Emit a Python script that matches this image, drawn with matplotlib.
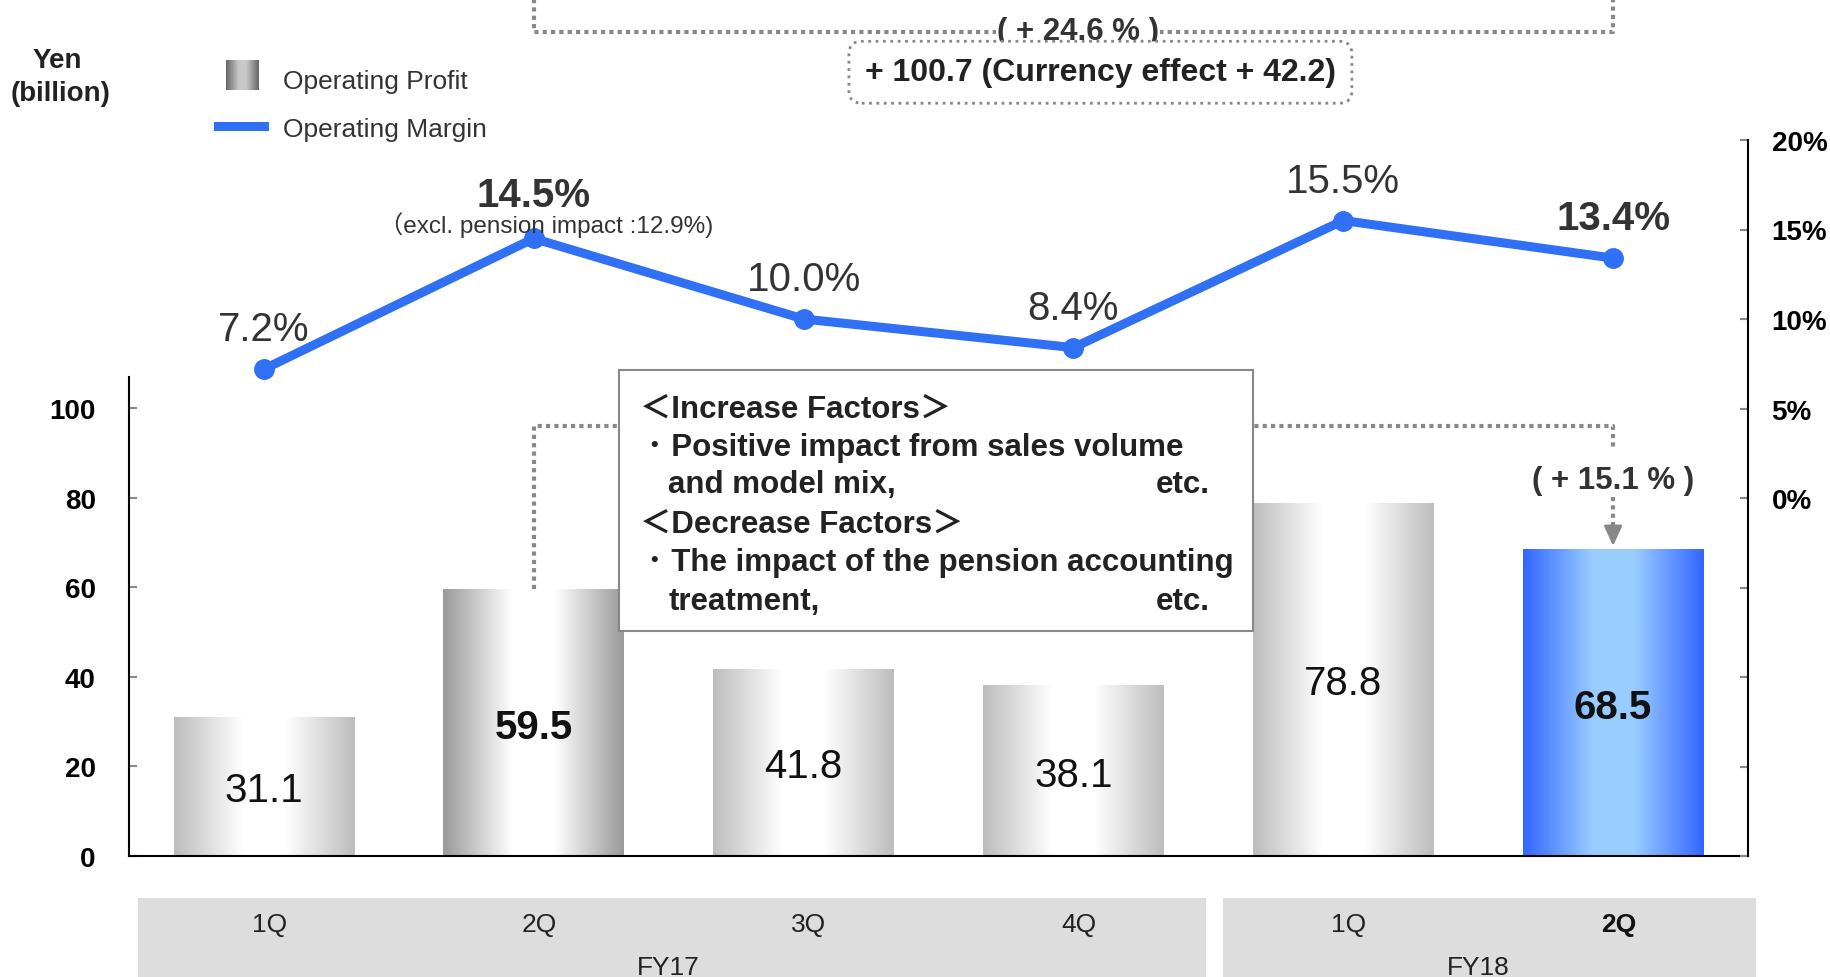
import matplotlib
matplotlib.use('Agg')
import matplotlib.pyplot as plt
import matplotlib.transforms as mtransforms
import numpy as np
from matplotlib.colors import LinearSegmentedColormap
from matplotlib.patches import Rectangle
from matplotlib.lines import Line2D

plt.rcParams['font.family'] = ['Liberation Sans', 'Noto Sans CJK JP', 'DejaVu Sans']

# data
quarters = ['1Q', '2Q', '3Q', '4Q', '1Q', '2Q']
years = ['FY17', 'FY18']
profit = [31.1, 59.5, 41.8, 38.1, 78.8, 68.5]
margin = [7.2, 14.5, 10.0, 8.4, 15.5, 13.4]
profit_labels = ['31.1', '59.5', '41.8', '38.1', '78.8', '68.5']
margin_labels = ['7.2%', '14.5%', '10.0%', '8.4%', '15.5%', '13.4%']
highlight = [1, 5]          # bold labels
left_ticks = [0, 20, 40, 60, 80, 100]
right_ticks = [-20, -15, -10, -5, 0, 5, 10, 15, 20]

blue = '#3070F5'
VA = 'center_baseline'
W, H = 1831, 978
fig = plt.figure(figsize=(W / 100, H / 100), dpi=100)


def fx(px):
    return px / W


def fy(py):
    return 1 - py / H


ax = fig.add_axes([fx(129), fy(857), (1748 - 129) / W, (857 - 141) / H])
x = np.arange(len(profit))
bars = ax.bar(x, profit, width=0.67, color='none', edgecolor='none', zorder=2)

# horizontal gradient for each bar
t = np.linspace(0, 1, 256)
prof = np.clip(1.3 * (1 - np.abs(2 * t - 1)), 0, 1)[None, :]
bar_cols = [('#bdbdbd', '#ffffff'), ('#9a9a9a', '#ffffff'), ('#bdbdbd', '#ffffff'),
            ('#bdbdbd', '#ffffff'), ('#bdbdbd', '#ffffff'), ('#3366ff', '#99ccff')]
for rect, (edge, cen) in zip(bars, bar_cols):
    cm = LinearSegmentedColormap.from_list('g', [edge, cen])
    x0, w, h = rect.get_x(), rect.get_width(), rect.get_height()
    im = ax.imshow(prof, cmap=cm, extent=(x0, x0 + w, 0, h), aspect='auto',
                   interpolation='bilinear', zorder=2)
    im.set_clip_path(rect)

for i, (v, lbl) in enumerate(zip(profit, profit_labels)):
    ax.text(i, v / 2, lbl, ha='center', va=VA, fontsize=29, color='#111',
            fontweight='bold' if i in highlight else 'normal', zorder=5)

ax.set_xlim(-0.5, 5.5)
ax.set_ylim(0, 159.8)
ax.set_xticks([])
ax.set_yticks(left_ticks)
ax.set_yticklabels([str(v) for v in left_ticks], fontweight='bold')
ax.tick_params(axis='y', direction='in', length=6, width=1.5, color='#888888',
               labelsize=20, pad=24)
for s in ['top', 'right']:
    ax.spines[s].set_visible(False)
ax.spines['left'].set_bounds(0, 107)
ax.spines['left'].set_linewidth(1.5)
ax.spines['bottom'].set_linewidth(1.5)

# dotted comparison brackets
dot = dict(color='#888888', lw=3, ls=(0, (1, 1)), clip_on=False, zorder=1.5)
ax.plot([1, 1, 5, 5], [profit[1], 96, 96, 90.6], **dot)
ax.plot([5, 5], [80.1, 72.5], **dot)
ax.annotate('', xy=(5, 69.2), xytext=(5, 73.5), annotation_clip=False,
            arrowprops=dict(arrowstyle='-|>,head_length=1.2,head_width=0.55',
                            color='#888888', lw=2, shrinkA=0, shrinkB=0))
ax.text(5, 84.8, '( + 15.1 % )', ha='center', va=VA, fontsize=22.5,
        fontweight='bold', color='#333333')

ax.plot([1, 1, 5, 5], [195, 184, 184, 195], **dot)
ax.text(3.017, 185, '( + 24.6 % )', ha='center', va=VA, fontsize=22.5,
        fontweight='bold', color='#333333',
        bbox=dict(fc='white', ec='none', pad=1))
ax.text(3.10, 175.7, '+ 100.7 (Currency effect + 42.2)', ha='center', va=VA,
        fontsize=23, fontweight='bold', color='#222222',
        bbox=dict(boxstyle='round,pad=0.5,rounding_size=0.4', fc='white',
                  ec='#888888', ls=':', lw=2))

# factors box
ax.add_patch(Rectangle((1.317, 50.2), 3.666 - 1.317, 108.5 - 50.2, fc='white',
                       ec='#888888', lw=1.5, zorder=6, clip_on=False))
box_lines = [
    ('＜Increase Factors＞', 1.395, 100.7, 'left'),
    ('･ Positive impact from sales volume', 1.42, 92.0, 'left'),
    ('and model mix,', 1.499, 83.7, 'left'),
    ('etc.', 3.507, 83.7, 'right'),
    ('＜Decrease Factors＞', 1.395, 75.0, 'left'),
    ('･ The impact of the pension accounting', 1.42, 66.3, 'left'),
    ('treatment,', 1.499, 57.6, 'left'),
    ('etc.', 3.507, 57.6, 'right'),
]
for s, bx, by, ha in box_lines:
    ax.text(bx, by, s, ha=ha, va=VA, fontsize=22.5, fontweight='bold',
            color='#222222', zorder=7)

# margin line
ax2 = ax.twinx()
ax2.set_ylim(-20, 20)
ax2.set_yticks(right_ticks)
ax2.set_yticklabels([f'{v}%' if v >= 0 else '' for v in right_ticks], fontweight='bold')
ax2.tick_params(axis='y', direction='in', length=6, width=1.5, color='#888888',
                labelsize=20, pad=17)
for s in ['top', 'left', 'bottom']:
    ax2.spines[s].set_visible(False)
ax2.spines['right'].set_linewidth(1.5)
ax2.plot(x, margin, color=blue, lw=6.5, marker='o', ms=14, zorder=3)
for i, (m, lbl) in enumerate(zip(margin, margin_labels)):
    ax2.annotate(lbl, (i, m), xytext=(0, 34 if i == 1 else 31.7),
                 textcoords='offset points', ha='center', va=VA, fontsize=29,
                 color='#333333', fontweight='bold' if i in highlight else 'normal')
ax2.annotate('（excl. pension impact :12.9%)', (1, margin[1]), xytext=(8.6, 12),
             textcoords='offset points', ha='center', va=VA, fontsize=17.5,
             color='#333333')

# category band
trans = mtransforms.blended_transform_factory(ax.transData, fig.transFigure)
fig.add_artist(Rectangle((-0.468, 0), 3.49 + 0.468, fy(899), transform=trans,
                         fc='#dddddd', ec='none', zorder=0))
fig.add_artist(Rectangle((3.555, 0), 5.53 - 3.555, fy(899), transform=trans,
                         fc='#dddddd', ec='none', zorder=0))
for i, q in enumerate(quarters):
    ax.text(i + 0.02, fy(923), q, transform=trans, ha='center', va=VA,
            fontsize=19, color='#222222' if i != 5 else '#111111',
            fontweight='bold' if i == 5 else 'normal')
ax.text(np.mean(x[:4]), fy(966), years[0], transform=trans, ha='center', va=VA,
        fontsize=19, color='#222222')
ax.text(np.mean(x[4:]), fy(966), years[1], transform=trans, ha='center', va=VA,
        fontsize=19, color='#222222')

# unit label and legend
fig.text(fx(57), fy(58), 'Yen', ha='center', va=VA, fontsize=20,
         fontweight='bold', color='#222222')
fig.text(fx(61), fy(91), '(billion)', ha='center', va=VA, fontsize=20,
         fontweight='bold', color='#222222')
lax = fig.add_axes([fx(226), fy(91), 32 / W, 30 / H])
lax.imshow(prof, cmap=LinearSegmentedColormap.from_list('l', ['#666666', '#c8c8c8']),
           aspect='auto')
lax.axis('off')
fig.add_artist(Line2D([fx(218), fx(264)], [fy(127), fy(127)], color=blue, lw=6.5,
                      transform=fig.transFigure))
fig.text(fx(283), fy(79), 'Operating Profit', ha='left', va=VA, fontsize=19,
         color='#333333')
fig.text(fx(283), fy(127), 'Operating Margin', ha='left', va=VA, fontsize=19,
         color='#333333')

fig.savefig('out.png', dpi=100)
